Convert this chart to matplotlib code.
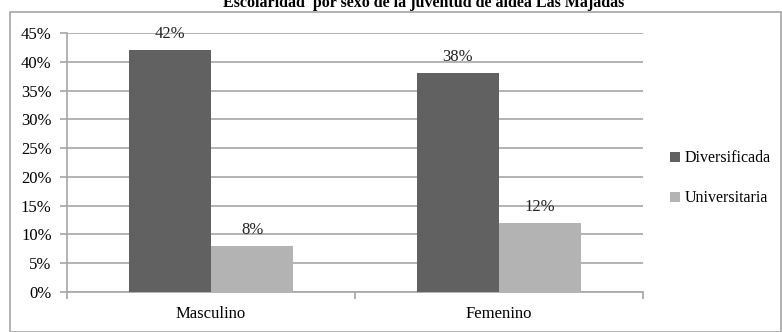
import matplotlib
matplotlib.use("Agg")
import matplotlib.pyplot as plt
from matplotlib.patches import Rectangle
import numpy as np

categories = ["Masculino", "Femenino"]
diversificada = [42, 38]
universitaria = [8, 12]
series_names = ["Diversificada", "Universitaria"]
yticks = [0, 5, 10, 15, 20, 25, 30, 35, 40, 45]

plt.rcParams['font.family'] = ['Liberation Serif', 'DejaVu Serif']

W, H = 782, 332
fig = plt.figure(figsize=(W/100, H/100), dpi=100)
ax = fig.add_axes([67/W, 1-292/H, (643-67)/W, (292-33)/H])

# outer frame
fig.patches.append(Rectangle((10/W, 0), (781-10)/W, 1-12/H, transform=fig.transFigure,
                             fill=False, edgecolor='#a6a6a6', linewidth=1.2))

x = np.arange(len(categories))
bw = 0.286
c1, c2 = '#616161', '#b3b3b3'
b1 = ax.bar(x - bw/2, diversificada, bw, color=c1, label=series_names[0], zorder=3)
b2 = ax.bar(x + bw/2, universitaria, bw, color=c2, label=series_names[1], zorder=3)

for bars, vals in ((b1, diversificada), (b2, universitaria)):
    for r, v in zip(bars, vals):
        ax.annotate(f"{v}%", (r.get_x() + r.get_width()/2, v), xytext=(0, 6),
                    textcoords='offset points', ha='center', va='bottom', fontsize=12,
                    color='#222222', zorder=4)

ax.set_xlim(-0.5, 1.5)
ax.set_ylim(0, 45)
ax.set_yticks(yticks)
ax.set_yticklabels([f"{t}%" for t in yticks], fontsize=12)
ax.yaxis.grid(True, color='#a6a6a6', linewidth=1.2, zorder=0)
ax.set_xticks([-0.5, 0.5, 1.5])
ax.set_xticklabels([])
ax.set_xticks(x, minor=True)
ax.set_xticklabels(categories, minor=True, fontsize=12)
ax.tick_params(axis='x', which='minor', length=0, pad=10)
ax.tick_params(axis='x', which='major', length=5, color='#a6a6a6', width=1.2)
ax.tick_params(axis='y', length=5, color='#a6a6a6', width=1.2, pad=6)
for s in ['top', 'right']:
    ax.spines[s].set_visible(False)
for s in ['left', 'bottom']:
    ax.spines[s].set_color('#a6a6a6')
    ax.spines[s].set_linewidth(1.2)

fig.legend(handles=[b1, b2], loc='upper left', bbox_to_anchor=(664/W, 1-144/H),
           frameon=False, fontsize=11.5, handlelength=0.6, handleheight=0.6,
           handletextpad=0.3, labelspacing=1.5, borderaxespad=0)

fig.text(424/W, 1-7/H, "Escolaridad  por sexo de la juventud de aldea Las Majadas",
         ha='center', va='baseline', fontsize=11.5, fontweight='bold')

fig.savefig("out.png", dpi=100)
